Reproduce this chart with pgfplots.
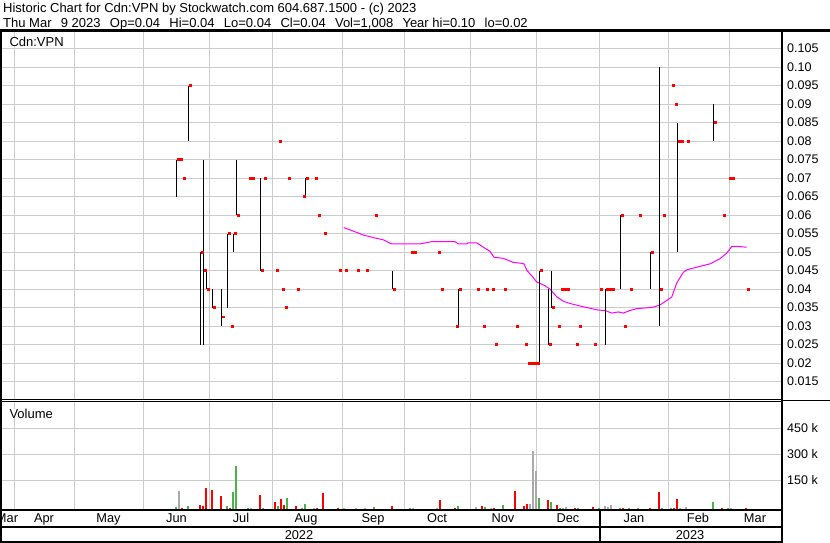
\documentclass[border=0pt]{standalone}
\usepackage{fontspec}
\setmainfont{Liberation Sans}
\usepackage{pgfplots}
\usepackage{pgfplotstable}
\pgfplotsset{compat=1.18}

\definecolor{volred}{RGB}{255,0,0}
\definecolor{volgreen}{RGB}{76,178,76}
\definecolor{volgray}{RGB}{170,170,170}
\definecolor{gridgray}{RGB}{204,204,204}
\definecolor{mavg}{RGB}{255,0,255}

% daily price bars: x = chart position, low, high, close
\pgfplotstableread{
x lo hi cl
176 0.065 0.075 0.075
179 0.075 0.075 0.075
182 0.07 0.07 0.07
188 0.08 0.095 0.095
200 0.025 0.05 0.05
203 0.025 0.075 0.045
206 0.04 0.045 0.04
212 0.035 0.04 0.035
221 0.03 0.04 0.0325
227 0.035 0.055 0.055
230 0.03 0.03 0.03
233 0.05 0.055 0.055
236 0.06 0.075 0.06
248 0.07 0.07 0.07
251 0.07 0.07 0.07
260 0.045 0.07 0.045
263 0.07 0.07 0.07
275 0.045 0.045 0.045
278 0.08 0.08 0.08
281 0.04 0.04 0.04
284 0.035 0.035 0.035
287 0.07 0.07 0.07
296 0.04 0.04 0.04
302 0.065 0.065 0.065
305 0.065 0.07 0.07
314 0.07 0.07 0.07
317 0.06 0.06 0.06
323 0.055 0.055 0.055
338 0.045 0.045 0.045
344 0.045 0.045 0.045
356 0.045 0.045 0.045
365 0.045 0.045 0.045
374 0.06 0.06 0.06
392 0.04 0.045 0.04
410 0.05 0.05 0.05
413 0.05 0.05 0.05
437 0.05 0.05 0.05
440 0.04 0.04 0.04
455 0.03 0.03 0.03
458 0.03 0.04 0.04
476 0.04 0.04 0.04
482 0.03 0.03 0.03
485 0.04 0.04 0.04
491 0.04 0.04 0.04
494 0.025 0.025 0.025
503 0.04 0.04 0.04
515 0.03 0.03 0.03
524 0.025 0.025 0.025
527 0.02 0.02 0.02
530 0.02 0.02 0.02
533 0.02 0.02 0.02
536 0.02 0.02 0.02
539 0.02 0.045 0.045
548 0.025 0.04 0.025
551 0.035 0.045 0.035
557 0.03 0.03 0.03
560 0.04 0.04 0.04
563 0.04 0.04 0.04
566 0.04 0.04 0.04
575 0.025 0.025 0.025
578 0.03 0.03 0.03
593 0.025 0.025 0.025
599 0.04 0.04 0.04
605 0.025 0.04 0.04
608 0.04 0.04 0.04
611 0.04 0.04 0.04
620 0.04 0.06 0.06
623 0.03 0.03 0.03
629 0.04 0.04 0.04
638 0.06 0.06 0.06
650 0.04 0.05 0.05
659 0.03 0.10 0.04
662 0.06 0.06 0.06
671 0.095 0.095 0.095
674 0.09 0.09 0.09
677 0.05 0.085 0.08
680 0.08 0.08 0.08
686 0.08 0.08 0.08
713 0.08 0.09 0.085
722 0.06 0.06 0.06
728 0.07 0.07 0.07
731 0.07 0.07 0.07
746 0.04 0.04 0.04
}\ohlc

% moving average
\pgfplotstableread{
x p
343.7 0.0566
350 0.0560
363.3 0.0546
375 0.0538
383.3 0.0533
391.7 0.0522
420 0.0522
431.7 0.0528
455 0.0528
458.3 0.0522
466.7 0.0522
468.3 0.0525
476.7 0.0525
483.3 0.0513
490 0.0502
494 0.0486
503.3 0.0483
513.3 0.0472
520 0.0470
524 0.0468
527 0.0450
532.7 0.0433
536.7 0.0419
545 0.0409
550 0.0400
556.7 0.0379
563.3 0.0367
570 0.0361
581.7 0.0353
598.3 0.0343
605 0.0342
611.7 0.0335
618.3 0.0338
623.3 0.0335
630 0.0342
636.7 0.0347
646 0.0349
653.3 0.0351
660 0.0357
666.7 0.0369
671.7 0.0378
676.7 0.0416
683.3 0.0445
686.7 0.0452
696.7 0.0459
710 0.0468
720 0.0482
726.7 0.0497
731.7 0.0515
738.3 0.0515
746.7 0.0513
}\matable

% volume in thousands, split by colour
\pgfplotstableread{
x v
182 -7
200 7.5
203 1.7
206 107
212 96
221 59
230 -7
260 65
275 25
281 44
284 7.5
296 1.7
317 -7
323 77
338 -7
392 3.7
440 36
455 -8
482 2
494 -8
515 88
524 2
527 13
548 36
557 7.5
575 -7
593 -2
623 -7
650 -7
659 84
674 -7
677 44
722 -7
746 -7
}\volr

\pgfplotstableread{
x v
176 -4
188 1.7
227 1.7
233 84
236 232
248 -7
263 -7
278 3.7
287 50
302 -7
305 13
374 -2
410 -7
458 1.7
485 -4
503 7.5
539 48
551 25
560 -7
578 -7
599 -7
620 -7
629 -7
638 -7
662 -7
671 -7
713 25
728 -7
}\volg

\pgfplotstableread{
x v
179 88
251 -7
314 -8
344 -7
356 -7
365 -7
413 -7
437 -8
476 -4
491 -8
530 13
533 319
536 203
563 -7
566 -2
605 3.7
608 -2
611 9
680 -7
686 -2
731 -7
}\volgr

\pgfplotsset{
  swchart/.style={
    scale only axis, width=781pt, xmin=0, xmax=781,
    axis line style={draw=none},
    major tick length=0pt,
    xtick={14.8,74.5,143.8,209.8,272.8,342,404.8,470.8,536.8,599.8,668.8,729},
    xticklabel=\empty,
    xmajorgrids, ymajorgrids,
    grid style={gridgray, line width=1pt},
    yticklabel pos=right,
    yticklabel style={anchor=west, inner sep=0pt, xshift=6pt,
      font=\fontsize{12.5}{14}\selectfont},
  },
  vline/.style 2 args={draw=none, mark=none,
    error bars/y dir=minus, error bars/y explicit, error bars/error mark=none,
    error bars/error bar style={draw=#1, line width=#2}},
}

\begin{document}
\begin{tikzpicture}
\useasboundingbox (0pt,0pt) rectangle (830pt,543pt);
\fill[white] (0pt,0pt) rectangle (830pt,543pt);

\begin{axis}[swchart, at={(0pt,143pt)}, anchor=south west, height=369pt,
  ymin=0.010, ymax=0.10976,
  ytick={0.015,0.02,0.025,0.03,0.035,0.04,0.045,0.05,0.055,0.06,0.065,0.07,0.075,0.08,0.085,0.09,0.095,0.10,0.105},
  yticklabels={0.015,0.02,0.025,0.03,0.035,0.04,0.045,0.05,0.055,0.06,0.065,0.07,0.075,0.08,0.085,0.09,0.095,0.10,0.105},
]
\addplot[mavg, line width=1pt] table[x=x, y=p] \matable;
\addplot[vline={black}{1pt}]
  table[x expr=\thisrow{x}+0.7, y=hi, y error expr=\thisrow{hi}-\thisrow{lo}] \ohlc;
\addplot[volred, only marks, mark=square*, mark size=1.2pt,
  mark options={fill=volred, draw=volred, line width=0.4pt, yscale=0.75}]
  table[x expr=\thisrow{x}+1.9, y=cl] \ohlc;
\end{axis}

\begin{axis}[swchart, at={(0pt,33.7pt)}, anchor=south west, height=107.3pt,
  ymin=-17.3, ymax=601.7,
  ytick={150,300,450}, yticklabels={150 k,300 k,450 k},
]
\addplot[vline={volred}{2pt}] table[x=x, y=v, y error expr=\thisrow{v}+20] \volr;
\addplot[vline={volgreen}{2pt}] table[x=x, y=v, y error expr=\thisrow{v}+20] \volg;
\addplot[vline={volgray}{2pt}] table[x=x, y=v, y error expr=\thisrow{v}+20] \volgr;
\end{axis}

% frame
\draw[line width=2.3pt] (0pt,512.5pt) -- (830pt,512.5pt);
\draw[line width=1pt] (0pt,143.6pt) -- (781pt,143.6pt);
\draw[line width=1pt] (0pt,141.2pt) -- (781pt,141.2pt);
\draw[line width=1.2pt] (781pt,142.3pt) -- (830pt,142.3pt);
\draw[line width=2.2pt] (0pt,32.7pt) -- (781pt,32.7pt);
\draw[line width=2pt] (0pt,16pt) -- (781pt,16pt);
\draw[line width=2pt] (0pt,1.3pt) -- (781pt,1.3pt);
\draw[line width=2.4pt] (781.9pt,0pt) -- (781.9pt,513.6pt);
\draw[line width=1.8pt] (0.9pt,0pt) -- (0.9pt,513.6pt);
\draw[line width=2pt] (599.7pt,1.3pt) -- (599.7pt,32.7pt);

% texts
\begin{scope}[every node/.style={inner sep=0pt}]
\node[anchor=base west, font=\fontsize{13}{15}\selectfont] at (3pt,530.7pt)
  {Historic Chart for Cdn:VPN by Stockwatch.com 604.687.1500 - (c) 2023};
\node[anchor=base west, font=\fontsize{13}{15}\selectfont] at (3pt,515.7pt)
  {Thu Mar\hspace{9.3pt}9 2023\hspace{9.3pt}Op=0.04\hspace{9.3pt}Hi=0.04\hspace{9.3pt}Lo=0.04\hspace{9.3pt}Cl=0.04\hspace{9.3pt}Vol=1,008\hspace{9.3pt}Year hi=0.10\hspace{9.3pt}lo=0.02};
\node[anchor=base west, font=\fontsize{13}{15}\selectfont, fill=white] at (9.3pt,496.5pt) {Cdn:VPN};
\node[anchor=base west, font=\fontsize{13}{15}\selectfont, fill=white] at (9.3pt,124.7pt) {Volume};
\foreach \m/\x in {Mar/7,Apr/44,May/108.5,Jun/176.5,Jul/241,Aug/306,Sep/373,Oct/437,Nov/503,Dec/568,Jan/634,Feb/698,Mar/755}
  \node[anchor=base, font=\fontsize{12.8}{15}\selectfont] at (\x pt,20.5pt) {\m};
\node[anchor=base, font=\fontsize{12.8}{15}\selectfont] at (299pt,3.5pt) {2022};
\node[anchor=base, font=\fontsize{12.8}{15}\selectfont] at (690pt,3.5pt) {2023};
\end{scope}
\end{tikzpicture}
\end{document}
